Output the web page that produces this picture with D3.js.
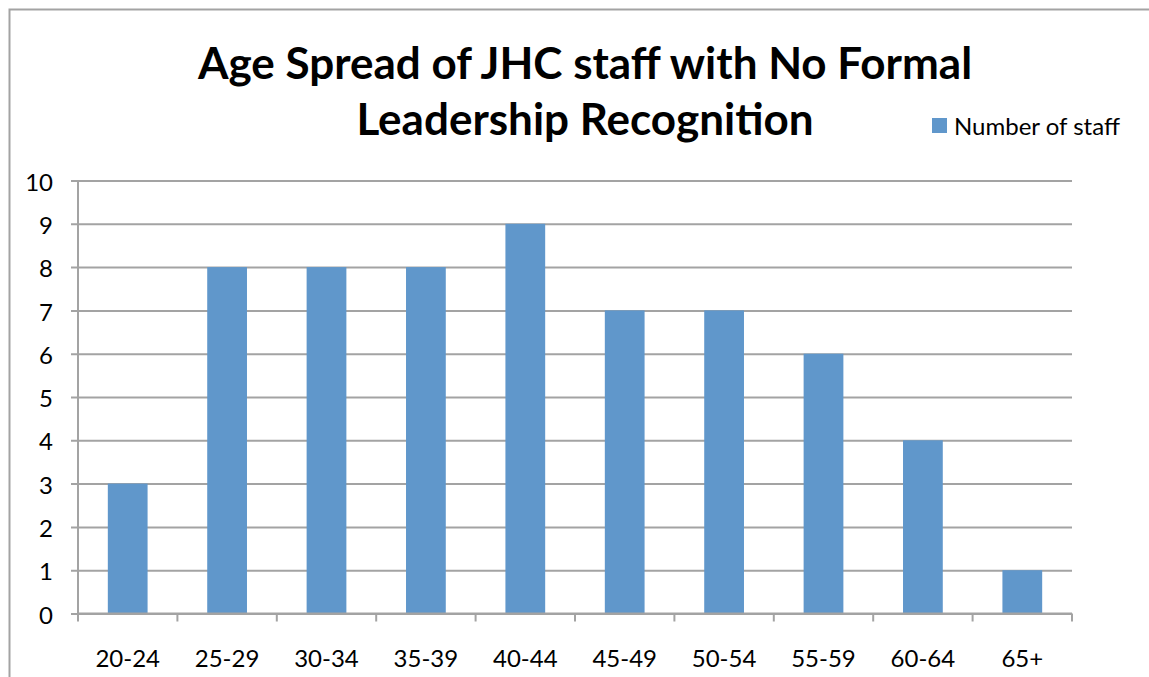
<!DOCTYPE html>
<html>
<head>
<meta charset="utf-8">
<script src="https://cdn.jsdelivr.net/npm/d3@7"></script>
<style>
  body { margin: 0; background: #fff; }
  svg { display: block; font-family: Lato, 'Open Sans', sans-serif; }
</style>
</head>
<body>
<div id="chart"></div>
<script>
// data
var ageGroups = ['20-24', '25-29', '30-34', '35-39', '40-44', '45-49', '50-54', '55-59', '60-64', '65+'];
var staffCounts = [3, 8, 8, 8, 9, 7, 7, 6, 4, 1];
var yTicks = [0, 1, 2, 3, 4, 5, 6, 7, 8, 9, 10];
var titleLines = ['Age Spread of JHC staff with No Formal', 'Leadership Recognition'];
var seriesName = 'Number of staff';

var svgWidth = 1149;
var svgHeight = 677;

var margin = { top: 180.5, right: 77, bottom: 63.5, left: 78 };
var width = svgWidth - margin.left - margin.right;
var height = svgHeight - margin.top - margin.bottom;

var barColor = '#6097cb';
var gridColor = '#a3a3a3';

var svg = d3.select('#chart')
    .append('svg')
    .attr('width', svgWidth)
    .attr('height', svgHeight);

// outer chart border (runs off the right and bottom edges)
svg.append('rect')
    .attr('x', 9.5)
    .attr('y', 9.5)
    .attr('width', 1200)
    .attr('height', 700)
    .attr('fill', 'none')
    .attr('stroke', gridColor)
    .attr('stroke-width', 2);

// title
svg.append('g').selectAll('text')
    .data(titleLines)
    .enter()
    .append('text')
    .attr('x', 585)
    .attr('y', (d, i) => 79 + i * 56)
    .attr('text-anchor', 'middle')
    .style('font-size', '44px')
    .style('font-weight', 'bold')
    .style('fill', '#000')
    .text(d => d);

var chartGroup = svg.append('g')
    .attr('transform', `translate(${margin.left}, ${margin.top})`);

var xScale = d3.scaleBand()
    .domain(ageGroups)
    .range([0, width])
    .paddingInner(0.6)
    .paddingOuter(0.3);

var xEdges = d3.scaleBand()
    .domain(ageGroups)
    .range([0, width]);

var yScale = d3.scaleLinear()
    .domain([0, 10])
    .range([height, 0]);

// gridlines with left ticks
var yAxis = d3.axisLeft(yScale)
    .tickValues(yTicks)
    .tickSize(-width)
    .tickPadding(25)
    .tickFormat(d3.format('d'));

var yAxisGroup = chartGroup.append('g')
    .classed('y-axis', true)
    .call(yAxis);

yAxisGroup.select('.domain').remove();
yAxisGroup.selectAll('.tick line')
    .attr('x1', -7)
    .attr('stroke', gridColor)
    .attr('stroke-width', 2);
yAxisGroup.selectAll('.tick text')
    .attr('dy', '0.4em')
    .style('font-size', '24px')
    .style('font-family', 'Lato, sans-serif')
    .style('fill', '#000');

// bars
chartGroup.selectAll('rect.bar')
    .data(staffCounts)
    .enter()
    .append('rect')
    .classed('bar', true)
    .attr('x', (d, i) => xScale(ageGroups[i]))
    .attr('y', d => yScale(d))
    .attr('width', xScale.bandwidth())
    .attr('height', d => height - yScale(d))
    .attr('fill', barColor);

// vertical axis line
chartGroup.append('line')
    .attr('x1', 0)
    .attr('x2', 0)
    .attr('y1', 0)
    .attr('y2', height)
    .attr('stroke', gridColor)
    .attr('stroke-width', 2);

// x axis: ticks at category boundaries
var boundaries = ageGroups.map(d => xEdges(d)).concat([width]);

var xAxisGroup = chartGroup.append('g')
    .classed('x-axis', true)
    .attr('transform', `translate(0, ${height})`);

xAxisGroup.append('line')
    .attr('x1', 0)
    .attr('x2', width)
    .attr('stroke', gridColor)
    .attr('stroke-width', 2);

xAxisGroup.selectAll('line.edge')
    .data(boundaries)
    .enter()
    .append('line')
    .classed('edge', true)
    .attr('x1', d => d)
    .attr('x2', d => d)
    .attr('y1', 0)
    .attr('y2', 8)
    .attr('stroke', gridColor)
    .attr('stroke-width', 2);

xAxisGroup.selectAll('text')
    .data(ageGroups)
    .enter()
    .append('text')
    .attr('x', d => xEdges(d) + xEdges.bandwidth() / 2)
    .attr('y', 53)
    .attr('text-anchor', 'middle')
    .style('font-size', '24px')
    .style('fill', '#000')
    .text(d => d);

// legend
var legend = svg.append('g')
    .attr('transform', 'translate(932, 118)');

legend.append('rect')
    .attr('width', 15)
    .attr('height', 15)
    .attr('fill', barColor);

legend.append('text')
    .attr('x', 22)
    .attr('y', 17)
    .style('font-size', '24px')
    .style('fill', '#000')
    .text(seriesName);
</script>
</body>
</html>
